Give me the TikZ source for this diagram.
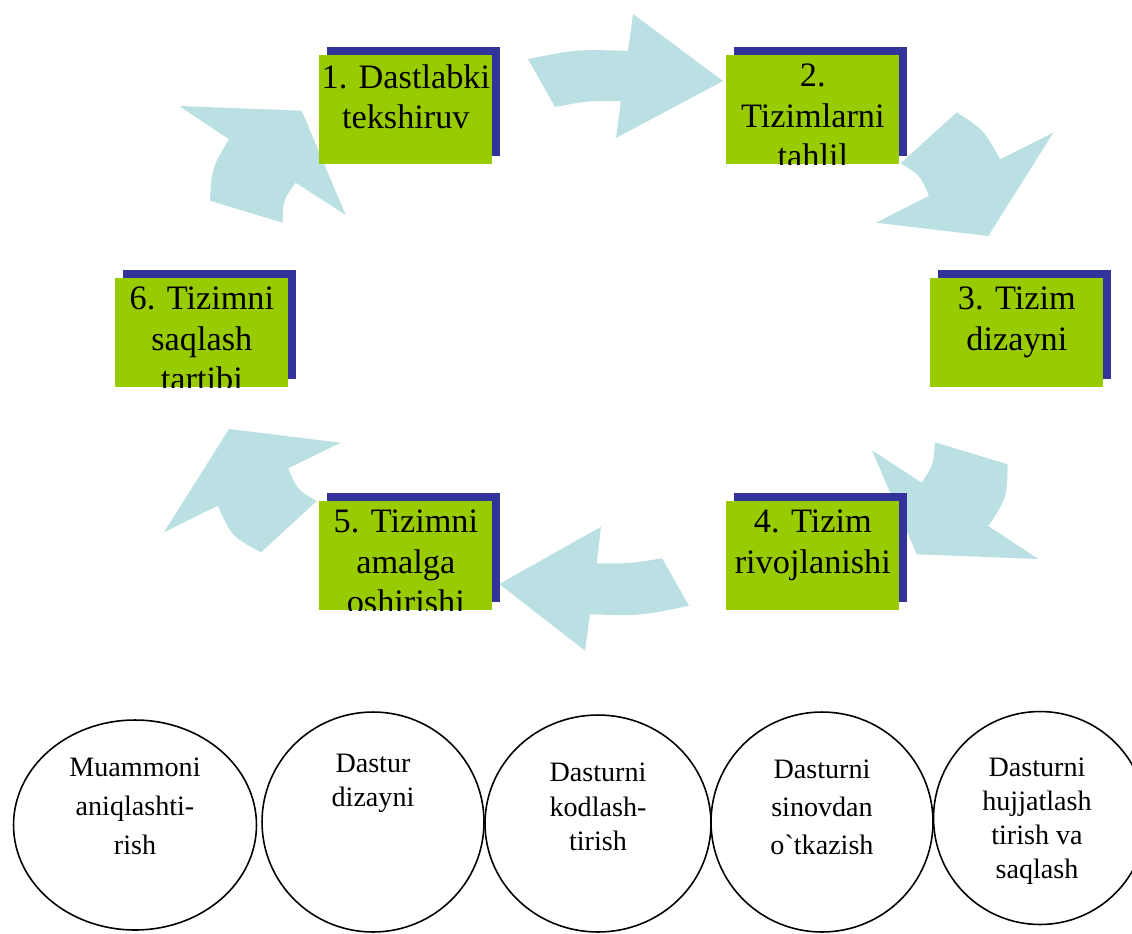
\documentclass[tikz,border=0pt]{standalone}
\usepackage{fontspec}
\setmainfont{Liberation Serif}
\usetikzlibrary{shapes.geometric,shadows}
\definecolor{stagegreen}{HTML}{99CC00}
\definecolor{stageshadow}{HTML}{333399}
\definecolor{loopblue}{HTML}{BBE0E3}

\begin{document}
\begin{tikzpicture}[x=0.02cm, y=-0.02cm,
  stage/.style={rectangle, fill=stagegreen, anchor=north west, inner sep=0pt,
    minimum width=3.46cm, minimum height=2.18cm,
    general shadow={fill=stageshadow, shadow xshift=0.16cm, shadow yshift=0.165cm},
    path picture={\node[stage_text] at ([yshift=-0.172cm]path picture bounding box.north) {#1};}},
  stage_text/.style={anchor=north, inner sep=0pt, minimum width=0pt, minimum height=0pt,
    align=center, font=\fontsize{19.5}{22.8}\selectfont},
  loop_arrow/.style={fill=loopblue},
  ring/.style={ellipse, draw, line width=0.9pt, inner sep=0pt},
  ring_text/.style={anchor=north, inner sep=0pt, align=center, font=\fontsize{16}{19.5}\selectfont}
]
  \useasboundingbox (0,0) rectangle (1132,933);
  \clip (0,0) rectangle (1132,933);

  % cycle arrows
  \fill[loop_arrow] (528,59) .. controls (577.3,49.2) .. (628,51) -- (633,14) -- (723,81) -- (616,138) -- (621,101) .. controls (587.8,100.8) .. (555,107) -- cycle;
  \fill[loop_arrow] (956.7,112.3) .. controls (984.3,130.4) .. (1000,159.3) -- (1053.3,132.7) -- (988.3,236) -- (876,222.7) -- (929,195.7) .. controls (919.9,175.1) .. (900.7,163.3) -- cycle;
  \fill[loop_arrow] (1007.7,464.3) .. controls (1006.9,498) .. (988.3,526) -- (1038.3,559) -- (916.7,554.3) -- (872,450.3) -- (921.7,482.7) .. controls (933.5,464.2) .. (935,442.3) -- cycle;
  \fill[loop_arrow] (689,605.7) .. controls (640.7,615.9) .. (590,614.3) -- (585,650.7) -- (499.3,584) -- (601,526.7) -- (596.7,563.3) .. controls (629.8,563.6) .. (662,558.3) -- cycle;
  \fill[loop_arrow] (261,552.3) .. controls (231.6,536.3) .. (217.7,505.7) -- (164,532.3) -- (229,429) -- (340.7,442.7) -- (288.3,468.3) .. controls (297,489.5) .. (316.7,501) -- cycle;
  \fill[loop_arrow] (210,200.7) .. controls (211.9,167.6) .. (229,139.3) -- (179.3,106) -- (301.7,110.7) -- (345.7,215) -- (295.7,182.7) .. controls (282.9,200.6) .. (282.7,222.7) -- cycle;

  % stages
  \node[stage={1. Dastlabki\\tekshiruv}] (s1) at (319,55) {};
  \node[stage={2.\\Tizimlarni\\tahlil}] (s2) at (726,55) {};
  \node[stage={3. Tizim\\dizayni}] (s3) at (930,278) {};
  \node[stage={4. Tizim\\rivojlanishi}] (s4) at (726,501) {};
  \node[stage={5. Tizimni\\amalga\\oshirishi}] (s5) at (319,501) {};
  \node[stage={6. Tizimni\\saqlash\\tartibi}] (s6) at (115,278) {};

  % program steps
  \node[ring, minimum width=4.86cm, minimum height=4.2cm] (c1) at (135,825) {};
  \node[ring, minimum width=4.44cm, minimum height=4.4cm] (c2) at (373,822) {};
  \node[ring, minimum width=4.52cm, minimum height=4.34cm] (c3) at (598,823.5) {};
  \node[ring, minimum width=4.44cm, minimum height=4.4cm] (c4) at (822,822) {};
  \node[ring, minimum width=4.26cm, minimum height=4.26cm] (c5) at (1040,818) {};
  \node[ring_text, font=\fontsize{16}{22.2}\selectfont] (t1) at (135,758) {Muammoni\\aniqlashti-\\rish};
  \node[ring_text] (t2) at (373,753.5) {Dastur\\dizayni};
  \node[ring_text, font=\fontsize{16}{19.7}\selectfont] (t3) at (598,762.5) {Dasturni\\kodlash-\\tirish};
  \node[ring_text, font=\fontsize{16}{21.6}\selectfont] (t4) at (822,760) {Dasturni\\sinovdan\\o\textasciigrave tkazish};
  \node[ring_text, font=\fontsize{16}{19.2}\selectfont] (t5) at (1037,758) {Dasturni\\hujjatlash\\tirish va\\saqlash};
\end{tikzpicture}
\end{document}
